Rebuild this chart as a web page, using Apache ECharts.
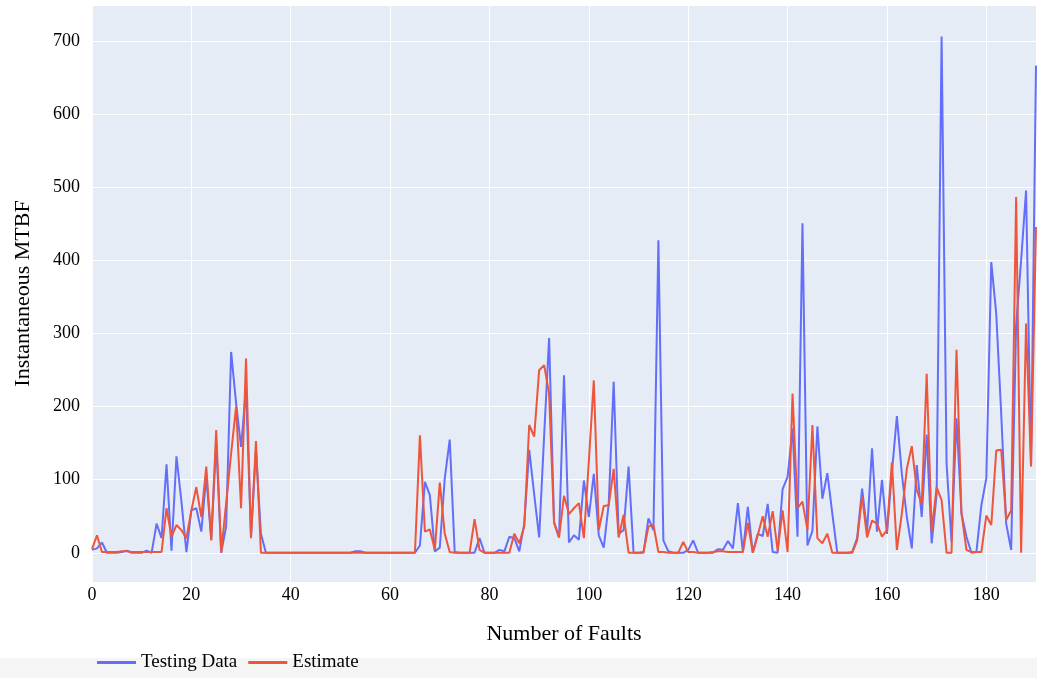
<!DOCTYPE html>
<html>
<head>
<meta charset="utf-8">
<title>Instantaneous MTBF</title>
<script src="https://cdn.jsdelivr.net/npm/echarts@6/dist/echarts.min.js"></script>
<style>
  html, body { margin: 0; padding: 0; background: #ffffff; }
  #chart { width: 1037px; height: 678px; }
</style>
</head>
<body>
<div id="chart"></div>
<script>
// Instantaneous MTBF observed per fault (testing data)
const testingData = [
  4, 6, 14, 0, 0, 0, 1, 3, 0, 0,
  0, 3, 0, 40, 20, 121, 3, 132, 70, 1,
  58, 61, 29, 105, 18, 150, 0, 36, 275, 205,
  145, 225, 22, 140, 26, 0, 0, 0, 0, 0,
  0, 0, 0, 0, 0, 0, 0, 0, 0, 0,
  0, 0, 0, 2, 2, 0, 0, 0, 0, 0,
  0, 0, 0, 0, 0, 0, 10, 97, 79, 2,
  7, 102, 155, 1, 0, 0, 0, 0, 20, 0,
  0, 0, 4, 2, 22, 20, 2, 40, 141, 80,
  21, 160, 294, 42, 21, 243, 14, 24, 18, 99,
  49, 108, 24, 7, 67, 234, 26, 31, 118, 0,
  0, 0, 47, 31, 428, 17, 2, 0, 0, 0,
  4, 17, 0, 0, 0, 0, 5, 4, 16, 6,
  68, 1, 63, 0, 26, 23, 67, 1, 0, 87,
  104, 170, 22, 451, 10, 30, 173, 74, 109, 54,
  0, 0, 0, 1, 20, 88, 29, 143, 29, 100,
  26, 110, 187, 108, 49, 6, 120, 49, 162, 13,
  80, 707, 122, 15, 184, 54, 22, 0, 1, 65,
  102, 398, 327, 190, 40, 4, 312, 400, 496, 120,
  667
];

// Model estimate of the instantaneous MTBF
const estimateData = [
  5, 24, 1, 1, 1, 1, 2, 2, 1, 1,
  1, 1, 1, 1, 1, 61, 22, 38, 31, 20,
  58, 90, 49, 118, 17, 168, 0, 68, 136, 200,
  61, 266, 20, 153, 0, 0, 0, 0, 0, 0,
  0, 0, 0, 0, 0, 0, 0, 0, 0, 0,
  0, 0, 0, 0, 0, 0, 0, 0, 0, 0,
  0, 0, 0, 0, 0, 0, 161, 29, 32, 4,
  96, 26, 1, 0, 0, 0, 0, 46, 4, 0,
  0, 0, 0, 0, 0, 26, 13, 36, 175, 159,
  250, 257, 218, 41, 21, 78, 53, 61, 68, 20,
  125, 236, 31, 64, 65, 115, 21, 52, 0, 0,
  0, 1, 36, 38, 1, 1, 0, 0, 0, 15,
  1, 1, 0, 0, 0, 1, 2, 2, 1, 1,
  1, 1, 41, 0, 24, 50, 22, 57, 3, 58,
  1, 218, 61, 70, 31, 175, 20, 13, 26, 0,
  0, 0, 0, 0, 17, 77, 21, 44, 40, 22,
  31, 124, 4, 54, 115, 146, 86, 67, 245, 30,
  90, 72, 0, 0, 278, 54, 4, 1, 1, 1,
  51, 38, 140, 141, 45, 58, 487, 0, 314, 118,
  446
];

// Fault number for each observation (0, 1, 2, ...)
const faultNumbers = testingData.map((_, i) => i);

const seriesNames = ['Testing Data', 'Estimate'];
const xTitle = 'Number of Faults';
const yTitle = 'Instantaneous MTBF';

const pairs = (values) => values.map((v, i) => [faultNumbers[i], v]);

const FONT = '"Liberation Serif", "Times New Roman", serif';

const chart = echarts.init(document.getElementById('chart'), null, { renderer: 'canvas' });

chart.setOption({
  animation: false,
  backgroundColor: '#ffffff',
  graphic: [{
    type: 'rect',
    left: 0,
    top: 658,
    shape: { width: 1037, height: 20 },
    style: { fill: '#f5f5f5' },
    z: -10
  }],
  grid: {
    left: 92,
    right: 1,
    top: 5,
    bottom: 96,
    containLabel: false,
    outerBoundsMode: 'none',
    show: true,
    backgroundColor: '#E5ECF6',
    borderWidth: 0
  },
  legend: {
    data: seriesNames,
    left: 92,
    top: 648,
    orient: 'horizontal',
    icon: 'rect',
    itemWidth: 39,
    itemHeight: 3,
    itemGap: 11,
    textStyle: { fontFamily: FONT, fontSize: 19, color: '#000' }
  },
  xAxis: {
    type: 'value',
    min: 0,
    max: 190,
    interval: 20,
    name: xTitle,
    nameLocation: 'middle',
    nameGap: 41,
    nameTextStyle: { fontFamily: FONT, fontSize: 22, color: '#000' },
    axisLine: { show: false },
    axisTick: { show: false },
    axisLabel: {
      fontFamily: FONT, fontSize: 18, color: '#000', margin: 4,
      showMaxLabel: false
    },
    splitLine: { show: true, lineStyle: { color: '#ffffff', width: 1 } }
  },
  yAxis: {
    type: 'value',
    min: -40,
    max: 750,
    splitNumber: 8,
    name: yTitle,
    nameLocation: 'middle',
    nameGap: 58,
    nameTextStyle: { fontFamily: FONT, fontSize: 22, color: '#000' },
    axisLine: { show: false },
    axisTick: { show: false },
    axisLabel: {
      fontFamily: FONT, fontSize: 18, color: '#000', margin: 12,
      showMinLabel: false, showMaxLabel: false
    },
    splitLine: { show: true, lineStyle: { color: '#ffffff', width: 1 } }
  },
  series: [
    {
      name: seriesNames[0],
      type: 'line',
      data: pairs(testingData),
      showSymbol: false,
      symbol: 'none',
      color: '#636efa',
      lineStyle: { color: '#636efa', width: 2 },
      z: 2
    },
    {
      name: seriesNames[1],
      type: 'line',
      data: pairs(estimateData),
      showSymbol: false,
      symbol: 'none',
      color: '#EF553B',
      lineStyle: { color: '#EF553B', width: 2 },
      z: 3
    }
  ]
});
</script>
</body>
</html>
